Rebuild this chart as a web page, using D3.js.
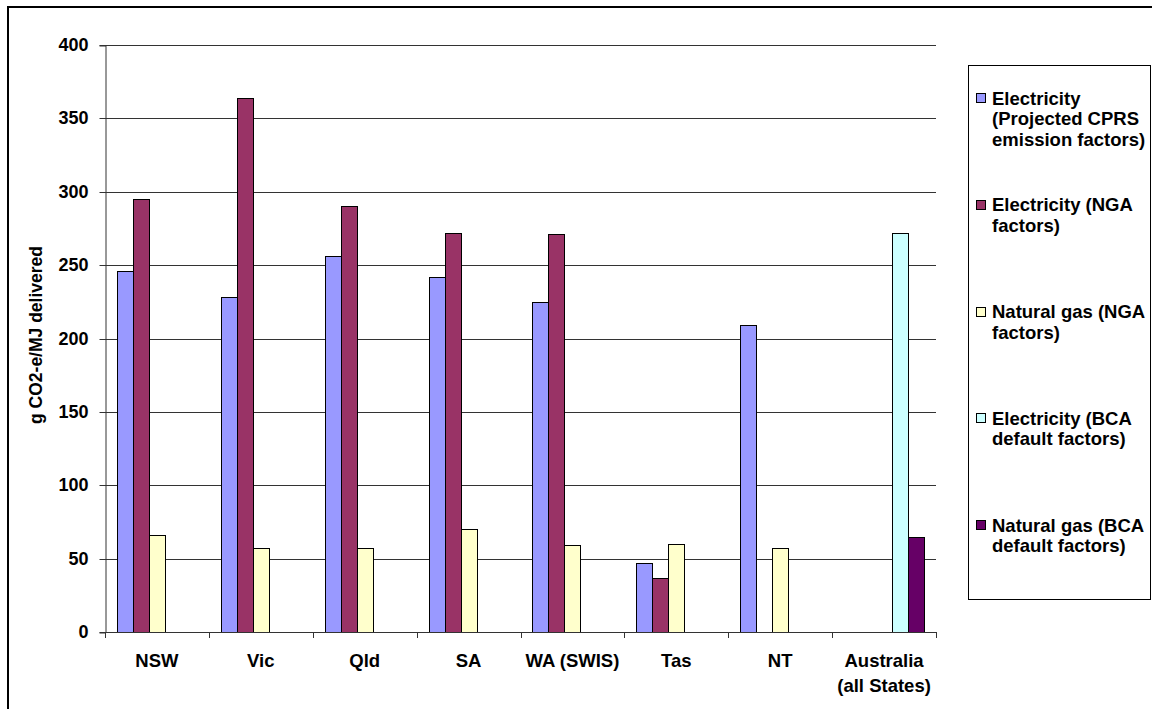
<!DOCTYPE html>
<html>
<head>
<meta charset="utf-8">
<script src="https://cdn.jsdelivr.net/npm/d3@7"></script>
<style>
  html, body { margin: 0; padding: 0; background: #fff; }
  svg { display: block; }
  text { font-family: "Liberation Sans", Arial, sans-serif; font-weight: bold; fill: #000; }
</style>
</head>
<body>
<svg id="chart" width="1152" height="709"></svg>
<script>
// Emission factors by state, g CO2-e per MJ delivered
const categories = ["NSW", "Vic", "Qld", "SA", "WA (SWIS)", "Tas", "NT", "Australia (all States)"];
const categoryLines = [["NSW"], ["Vic"], ["Qld"], ["SA"], ["WA (SWIS)"], ["Tas"], ["NT"], ["Australia", "(all States)"]];

const elecCPRS = [246, 228, 256, 242, 225, 47, 209, null];
const elecNGA  = [295, 364, 290, 272, 271, 37, null, null];
const gasNGA   = [66, 57, 57, 70, 59, 60, 57, null];
const elecBCA  = [null, null, null, null, null, null, null, 272];
const gasBCA   = [null, null, null, null, null, null, null, 65];

const seriesNames = [
  ["Electricity", "(Projected CPRS", "emission factors)"],
  ["Electricity (NGA", "factors)"],
  ["Natural gas (NGA", "factors)"],
  ["Electricity (BCA", "default factors)"],
  ["Natural gas (BCA", "default factors)"]
];
const seriesValues = [elecCPRS, elecNGA, gasNGA, elecBCA, gasBCA];
const seriesColors = ["#9999FF", "#993366", "#FFFFCC", "#CCFFFF", "#660066"];

const yTicks = [0, 50, 100, 150, 200, 250, 300, 350, 400];
const yTitle = "g CO2-e/MJ delivered";

const svg = d3.select("#chart");

// outer chart frame
svg.append("rect")
  .attr("x", 8).attr("y", 7).attr("width", 1200).attr("height", 800)
  .attr("fill", "none").attr("stroke", "#000").attr("stroke-width", 2);

const plot = { left: 105, right: 936, top: 45, bottom: 632 };

const x = d3.scaleBand().domain(categories).range([plot.left, plot.right]).padding(0);
const xs = d3.scaleBand().domain(d3.range(seriesValues.length))
  .range([0, x.bandwidth()]).paddingInner(0).paddingOuter(0.75);
const y = d3.scaleLinear().domain([0, 400]).range([plot.bottom, plot.top]);

// horizontal gridlines
svg.append("g").selectAll("line")
  .data(yTicks.filter(t => t > 0))
  .join("line")
  .attr("x1", plot.left).attr("x2", plot.right)
  .attr("y1", d => Math.round(y(d)) + 0.5).attr("y2", d => Math.round(y(d)) + 0.5)
  .attr("stroke", "#333").attr("stroke-width", 1);

// bars
const bars = svg.append("g");
seriesValues.forEach((vals, si) => {
  bars.append("g").selectAll("rect")
    .data(categories.map((c, i) => ({ c, v: vals[i] })).filter(d => d.v != null))
    .join("rect")
    .attr("x", d => Math.round(x(d.c) + xs(si)) + 0.5)
    .attr("y", d => Math.round(y(d.v)) + 0.5)
    .attr("width", Math.round(xs.bandwidth()))
    .attr("height", d => Math.round(y(0)) - Math.round(y(d.v)))
    .attr("fill", seriesColors[si])
    .attr("stroke", "#000").attr("stroke-width", 1);
});

// y axis
const yAxis = svg.append("g").attr("transform", `translate(${plot.left + 0.5},0.5)`)
  .call(d3.axisLeft(y).tickValues(yTicks).tickSize(6).tickPadding(11).tickFormat(d3.format("d")));
yAxis.select(".domain").attr("stroke", "#333");
yAxis.selectAll(".tick line").attr("stroke", "#333");
yAxis.selectAll(".tick text").style("font-size", "18px").attr("fill", "#000");
yAxis.selectAll(".tick").attr("transform", d => `translate(0,${Math.round(y(d))})`);

// x axis with ticks at category boundaries
const xAxisG = svg.append("g");
xAxisG.append("line")
  .attr("x1", plot.left).attr("x2", plot.right)
  .attr("y1", plot.bottom + 0.5).attr("y2", plot.bottom + 0.5)
  .attr("stroke", "#333");
const boundaries = categories.map(c => x(c)).concat([plot.right]);
xAxisG.selectAll("line.tk").data(boundaries).join("line")
  .attr("class", "tk")
  .attr("x1", d => Math.round(d) + 0.5).attr("x2", d => Math.round(d) + 0.5)
  .attr("y1", plot.bottom).attr("y2", plot.bottom + 6)
  .attr("stroke", "#333");

const catLabels = xAxisG.selectAll("text.cat").data(categories).join("text")
  .attr("class", "cat")
  .attr("text-anchor", "middle")
  .style("font-size", "18.5px");
catLabels.each(function(c, i) {
  const t = d3.select(this);
  categoryLines[i].forEach((line, li) => {
    t.append("tspan")
      .attr("x", x(c) + x.bandwidth() / 2)
      .attr("y", 667 + li * 25)
      .text(line);
  });
});

// y axis title
svg.append("text")
  .attr("transform", "translate(42,335) rotate(-90)")
  .attr("text-anchor", "middle")
  .style("font-size", "17.5px")
  .text(yTitle);

// legend
const legend = svg.append("g");
legend.append("rect")
  .attr("x", 968.5).attr("y", 65.5).attr("width", 182).attr("height", 534)
  .attr("fill", "#fff").attr("stroke", "#000").attr("stroke-width", 1);
seriesNames.forEach((lines, i) => {
  const cy = 98 + i * 106.8;
  legend.append("rect")
    .attr("x", 976.5).attr("y", Math.round(cy - 5) + 0.5)
    .attr("width", 9).attr("height", 9)
    .attr("fill", seriesColors[i]).attr("stroke", "#000");
  const t = legend.append("text").style("font-size", "18.5px");
  lines.forEach((line, li) => {
    t.append("tspan").attr("x", 992).attr("y", cy + 6.5 + li * 20.5).text(line);
  });
});
</script>
</body>
</html>
